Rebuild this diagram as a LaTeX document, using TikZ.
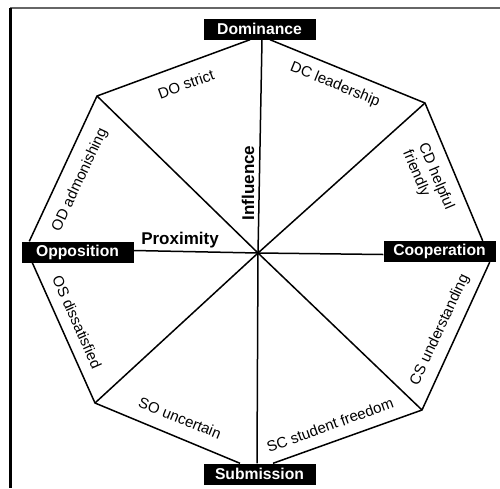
\documentclass[tikz,border=0pt]{standalone}
\usepackage{fontspec}
\setmainfont{Liberation Sans}
\begin{document}
\begin{tikzpicture}[x=1pt,y=-1pt,
  box/.style={fill=black,text=white,font=\fontsize{15.7}{18}\selectfont\bfseries,minimum width=112pt,minimum height=21pt,inner sep=0pt},
  edge/.style={line width=1.5pt},
  lbl/.style={font=\fontsize{15}{17}\selectfont,inner sep=0pt},
  axislbl/.style={font=\fontsize{17}{19}\selectfont\bfseries,inner sep=0pt}]
\useasboundingbox (0,0) rectangle (500,488);
% frame
\draw[black!60,line width=1.3pt] (10,8) -- (500,8);
\draw[line width=2.5pt] (10.3,8) -- (10.3,488);
% boxes
\node[box] (dom) at (259.5,29) {Dominance};
\node[box] (opp) at (77.5,252) {Opposition};
\node[box] (coop) at (439.5,251.5) {Cooperation};
\node[box] (sub) at (259.5,474) {Submission};
% vertices
\coordinate (c) at (258,253);
\coordinate (ul) at (97,96);
\coordinate (ur) at (425,103);
\coordinate (ll) at (95,403);
\coordinate (lr) at (422,410);
% octagon edges
\draw[edge] ([xshift=-9.5pt]dom.south) -- (ul) -- ([xshift=8pt]opp.north west);
\draw[edge] ([xshift=11pt]opp.south west) -- (ll) -- ([xshift=-19.5pt]sub.north);
\draw[edge] ([xshift=13.5pt]sub.north) -- (lr) -- ([xshift=-6pt]coop.south east);
\draw[edge] ([xshift=-13pt]coop.north east) -- (ur) -- ([xshift=10.5pt]dom.south);
% spokes
\draw[edge] (c) -- (ul);
\draw[edge] (c) -- (ur);
\draw[edge] (c) -- (ll);
\draw[edge] (c) -- (lr);
\draw[edge] (c) -- ([xshift=2.5pt]dom.south);
\draw[edge] (c) -- ([xshift=-2.5pt]sub.north);
\draw[edge] (c) -- ([yshift=1.5pt]opp.east);
\draw[edge] (c) -- ([yshift=-3pt]coop.west);
% labels
\node[lbl,rotate=20] (do) at (186,84) {DO strict};
\node[lbl,rotate=-22] (dc) at (335,85) {DC leadership};
\node[lbl,rotate=65] (od) at (80,180) {OD admonishing};
\node[lbl,rotate=-67,align=left] (cd) at (428,180) {CD helpful\\friendly};
\node[lbl,rotate=-66] (os) at (77,322) {OS dissatisfied};
\node[lbl,rotate=65] (cs) at (440,330) {CS understanding};
\node[lbl,rotate=-22] (so) at (180,418) {SO uncertain};
\node[lbl,rotate=20] (sc) at (330,425) {SC student freedom};
\node[axislbl,rotate=90] (inf) at (248,183) {Influence};
\node[axislbl] (prox) at (180,240) {Proximity};
\end{tikzpicture}
\end{document}
